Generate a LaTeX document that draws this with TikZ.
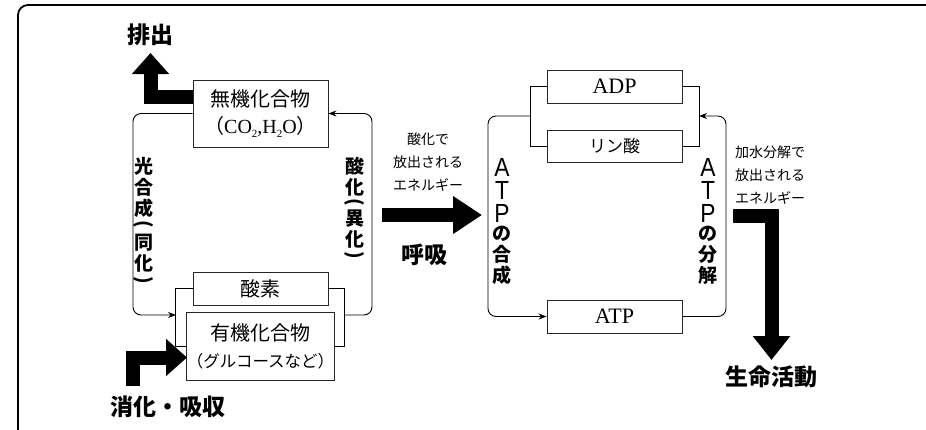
\documentclass[tikz,border=0pt]{standalone}
\usepackage{fontspec}
\usepackage{graphicx}
\setmainfont{Liberation Serif}
\newfontfamily\jp{Noto Sans CJK JP}
\newfontfamily\lsans{Liberation Sans}
\usetikzlibrary{arrows.meta}
\newcommand\subtwo{\raisebox{-0.35ex}{\fontsize{11}{11}\selectfont 2}}
\newcommand\vparl{\rotatebox[origin=c]{-90}{(}}
\newcommand\vparr{\rotatebox[origin=c]{-90}{)}}
\newcommand\tallL[1]{\scalebox{1.2}[1.38]{\lsans\mdseries #1}}
\begin{document}
\begin{tikzpicture}[x=1pt,y=-1pt,
  box/.style={draw=black!85,line width=0.9pt,minimum width=135pt,inner sep=0pt,align=center},
  loopline/.style={line width=0.9pt,rounded corners=8pt},
  looparrow/.style={loopline,-{Stealth[length=8pt,width=6pt]}},
  bigarrow/.style={line width=14pt,line join=miter,-{Triangle[length=21pt,width=36pt]}},
  biglabel/.style={font=\jp\bfseries\fontsize{23}{23}\selectfont,inner sep=0pt},
  vlabel/.style={font=\jp\bfseries\fontsize{19}{21}\selectfont,align=center,inner sep=0pt,anchor=north},
  small/.style={font=\jp\fontsize{14}{23}\selectfont,inner sep=0pt}]
\useasboundingbox (0,0) rectangle (926,429);
\begin{scope}
\clip (0,0) rectangle (926,429);
\draw[line width=1.8pt,rounded corners=10pt] (18,5) rectangle (960,470);
\end{scope}

% left cycle boxes
\node[box,minimum height=67pt,font=\fontsize{20}{27}\selectfont] (inorg) at (260.5,113.5)
  {{\jp 無機化合物}\\{\jp （}CO\subtwo,H\subtwo O{\jp ）}};
\node[box,minimum height=33pt,font=\jp\fontsize{20}{22}\selectfont] (oxy) at (260.5,288.5) {酸素};
\node[box,minimum height=68pt,font=\jp\fontsize{20}{27}\selectfont] (org) at (260.5,346)
  {有機化合物\\{\fontsize{16.5}{27}\selectfont （グルコースなど）}};

% brackets
\draw[line width=0.9pt] (oxy.west) -- ++(-17,0) |- (org.west);
\draw[line width=0.9pt] (oxy.east) -- ++(16,0) |- (org.east);
\coordinate (bl) at (176,315);
\coordinate (br) at (344,315);
\draw[looparrow] (inorg.west) -- (133,113.5) -- (133,315) -- (bl);
\draw[looparrow] (br) -- (372,315) -- (372,113.5) -- (inorg.east);

\node[vlabel] (photo) at (144,157) {光\\合\\成\\[-6pt]\vparl\\[-2pt]同\\化\\[-5pt]\vparr};
\node[vlabel] (oxid) at (355,157) {酸\\化\\[-7pt]\vparl\\[-4pt]異\\化\\[-6pt]\vparr};

% right cycle boxes
\node[box,minimum height=33pt,font=\fontsize{22}{22}\selectfont] (adp) at (614.5,86.5) {ADP};
\node[box,minimum height=32pt,font=\jp\fontsize{17}{17}\selectfont] (pi) at (614.5,146) {リン酸};
\node[box,minimum height=33pt,font=\fontsize{22}{22}\selectfont] (atp) at (614.5,316.5) {ATP};
\draw[line width=0.9pt] (adp.west) -- ++(-16,0) |- (pi.west);
\draw[line width=0.9pt] (adp.east) -- ++(17,0) |- (pi.east);
\coordinate (bl2) at (531,116);
\coordinate (br2) at (699,116);
\draw[looparrow] (bl2) -- (488,116) -- (488,316.5) -- (atp.west);
\draw[looparrow] (atp.east) -- (726,316.5) -- (726,116) -- (br2);

\node[vlabel] (syn) at (502,158) {\tallL{A}\\[2pt]\tallL{T}\\[2pt]\tallL{P}\\[-3pt]の\\合\\成};
\node[vlabel] (dec) at (708,158) {\tallL{A}\\[2pt]\tallL{T}\\[2pt]\tallL{P}\\[-3pt]の\\分\\解};

% big arrows and labels
\node[biglabel] (haishutsu) at (150,35) {排出};
\coordinate (haitip) at (150.5,53);
\draw[bigarrow] (inorg.west |- 0,96.5) -- (150.5,96.5) -- (haitip);

\node[biglabel] (shouka) at (168,407) {消化・吸収};
\coordinate (shoustart) at (132.5,386);
\draw[bigarrow] (shoustart) -- (132.5,357.5) -- (187,357.5);

\node[small,align=center] (ene1) at (428,162) {酸化で\\放出される\\エネルギー};
\coordinate (ko1) at (382,215);
\coordinate (ko2) at (482,215);
\draw[bigarrow,-{Triangle[length=29pt,width=36pt]}] (ko1) -- (ko2);
\node[biglabel] (kokyu) at (424,255) {呼吸};

\node[small,align=left,anchor=west] (ene2) at (735,175) {加水分解で\\放出される\\エネルギー};
\coordinate (sei1) at (733,216);
\coordinate (sei2) at (771.5,360);
\draw[bigarrow,-{Triangle[length=24pt,width=36pt]}] (sei1) -- (771.5,216) -- (sei2);
\node[biglabel] (seimei) at (771,377) {生命活動};
\end{tikzpicture}
\end{document}
